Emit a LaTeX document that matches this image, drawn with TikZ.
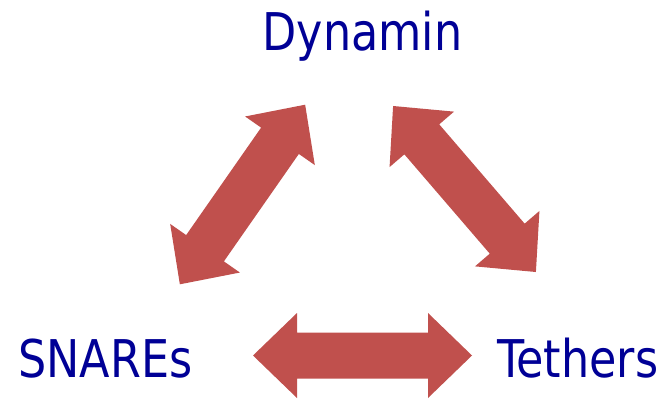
\documentclass[tikz,border=0pt]{standalone}
\usepackage{fontspec}
\setmainfont{DejaVu Sans Condensed}[FakeStretch=0.95]
\definecolor{arrowred}{RGB}{192,80,77}
\definecolor{labelblue}{RGB}{0,0,150}
\tikzset{
  label text/.style={text=labelblue, font=\fontsize{52pt}{62pt}\selectfont, inner sep=0pt, anchor=base},
  block arrow/.style={fill=arrowred, draw=none}
}
\newcommand{\dblblockarrow}[2]{%
  \begin{scope}[shift={(#1)}, rotate=#2]
    \fill[block arrow] (-109.5,0) -- (-65.5,-42.5) -- (-65.5,-23) -- (65.5,-23) -- (65.5,-42.5)
      -- (109.5,0) -- (65.5,42.5) -- (65.5,23) -- (-65.5,23) -- (-65.5,42.5) -- cycle;
  \end{scope}}
\begin{document}
\begin{tikzpicture}[x=1pt,y=-1pt]
\useasboundingbox (0,0) rectangle (669,399);
\node[label text] (dyn) at (362.5,50) {Dynamin};
\node[label text] (snare) at (105.5,377) {SNAREs};
\node[label text] (teth) at (578,377) {Tethers};
\coordinate (a1) at (242.5,194.5);
\coordinate (a2) at (464.5,189);
\coordinate (a3) at (362.5,355.5);
\dblblockarrow{a1}{55.1}
\dblblockarrow{a2}{-49.3}
\dblblockarrow{a3}{0}
\end{tikzpicture}
\end{document}
